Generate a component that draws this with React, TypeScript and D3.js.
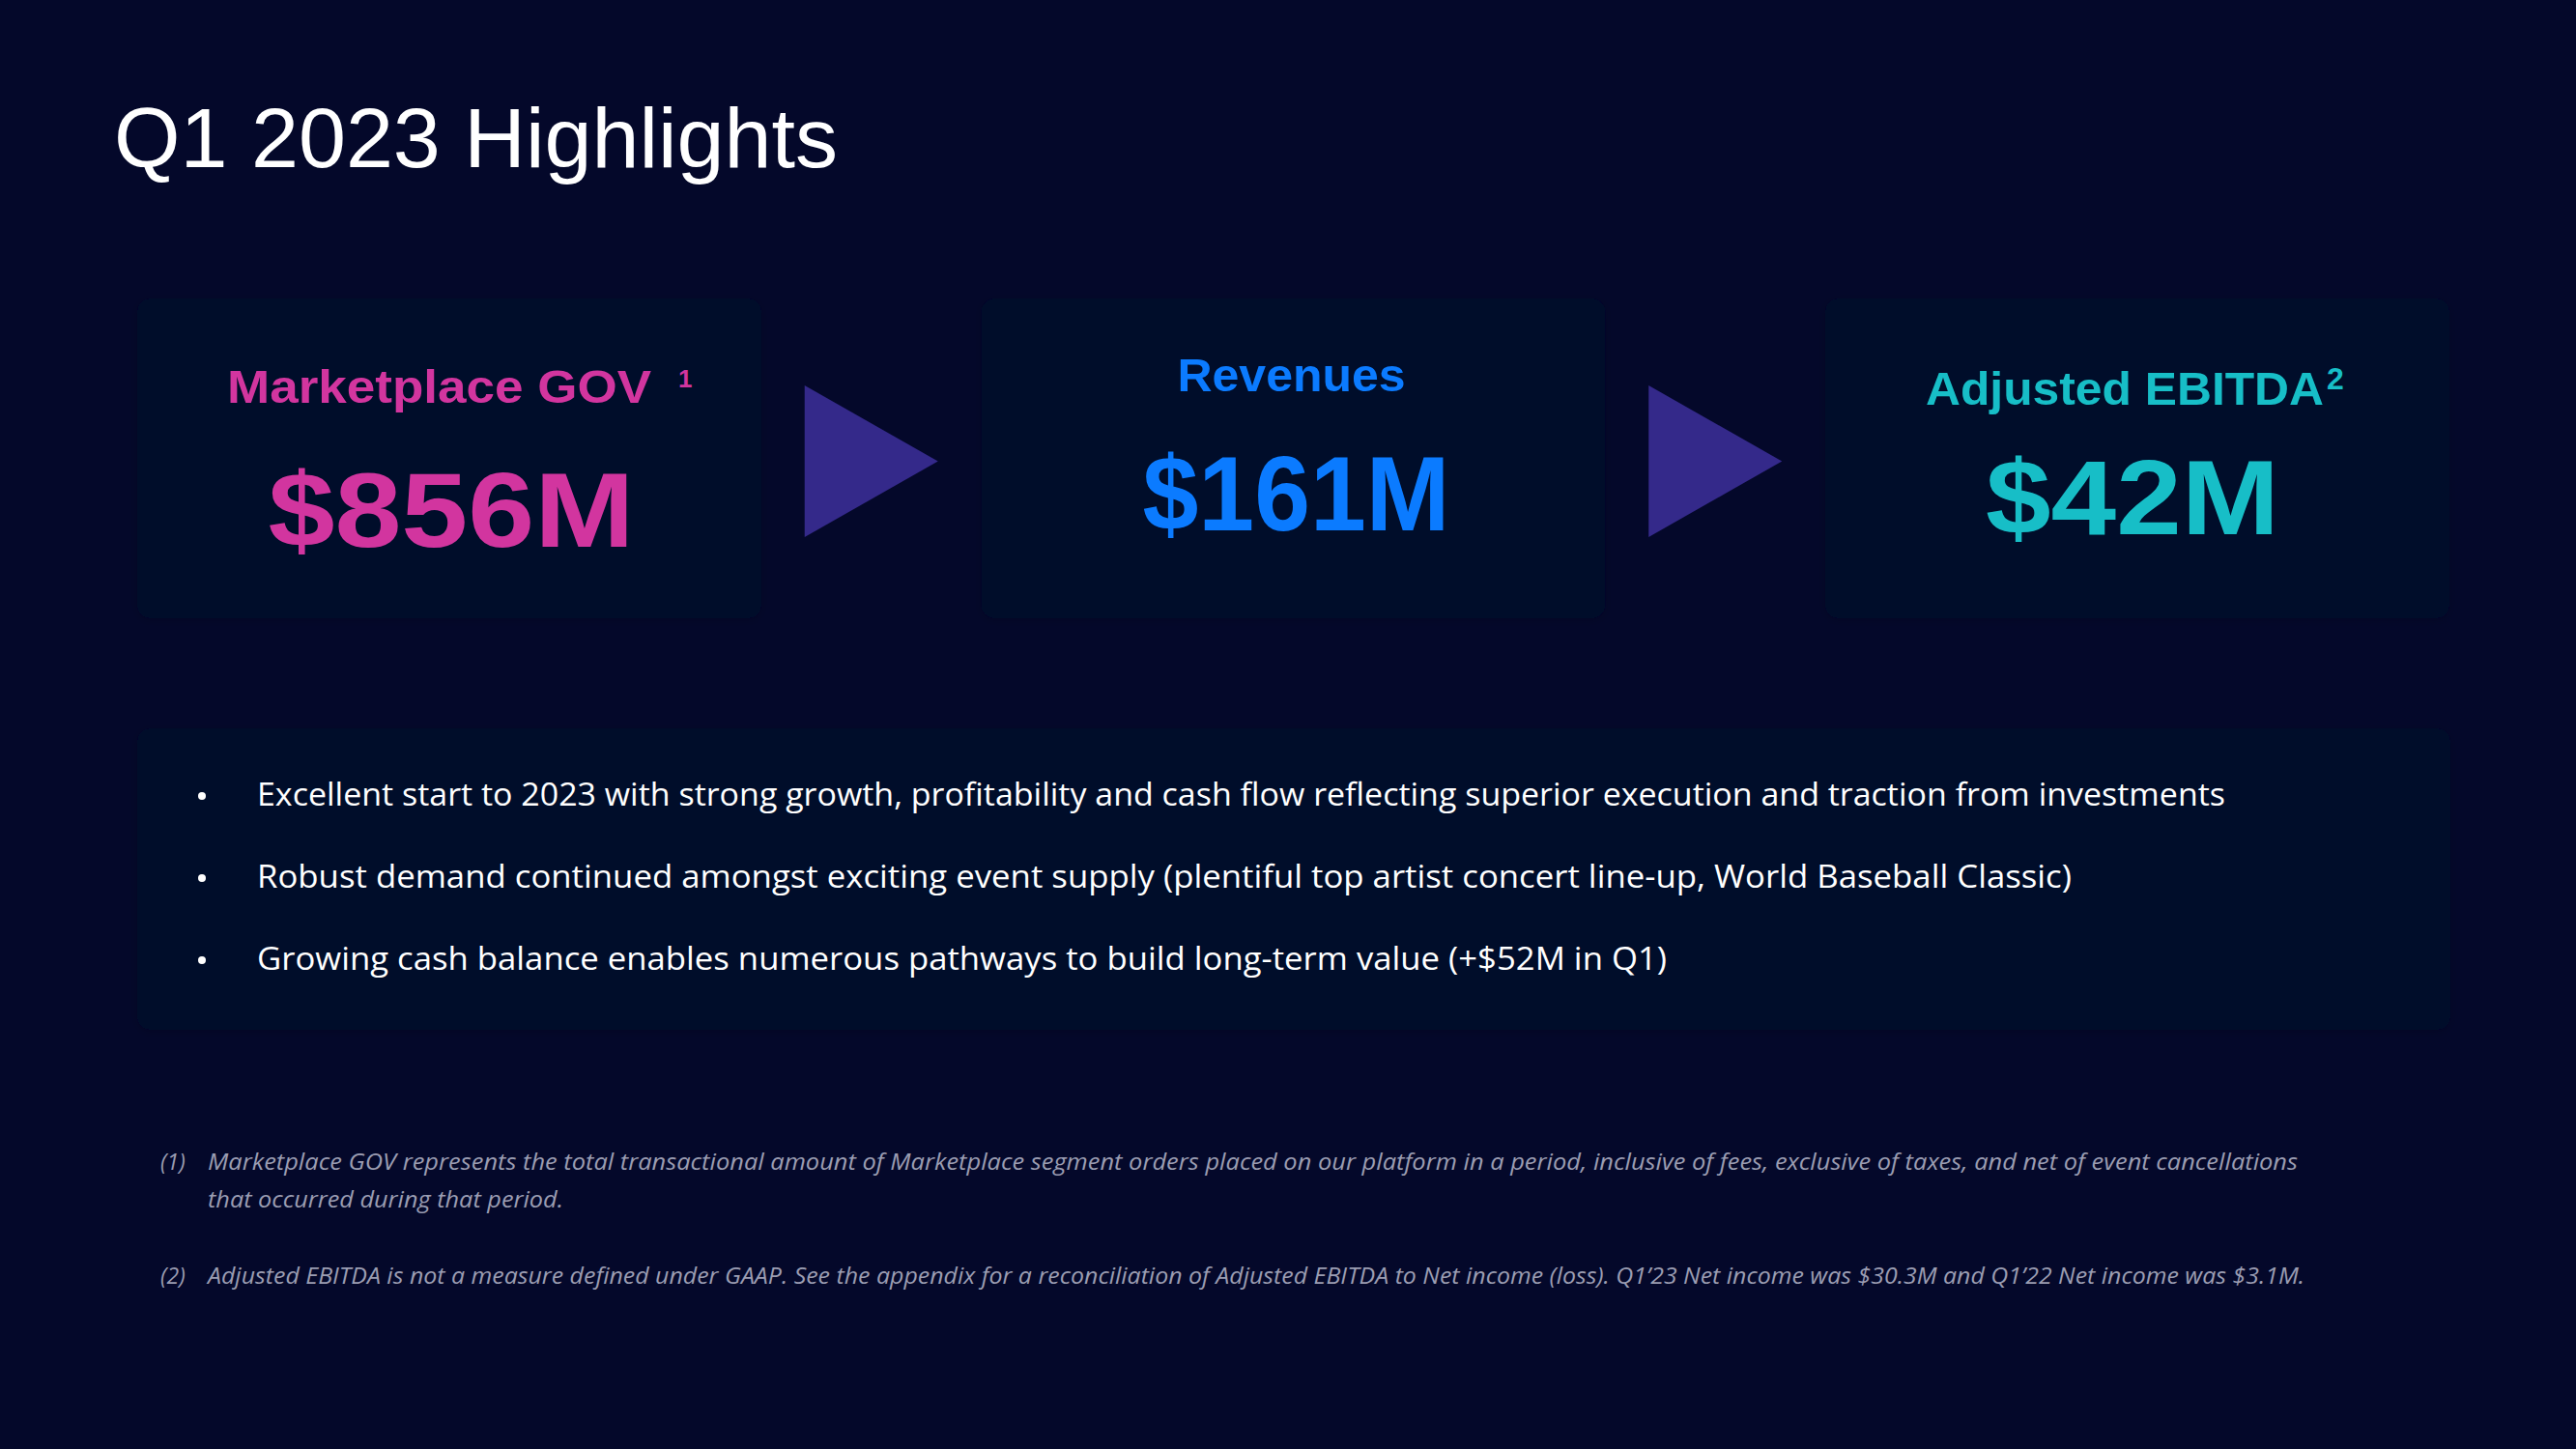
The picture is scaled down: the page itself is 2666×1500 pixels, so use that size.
import React from "react";
import * as d3 from "d3";

const W = 2666;
const H = 1500;

// ---- data ----
const titleText = "Q1 2023 Highlights";
const metricLabels = ["Marketplace GOV", "Revenues", "Adjusted EBITDA"];
const metricValues = ["$856M", "$161M", "$42M"];
const metricNotes = ["1", "", "2"];
const metricColors = ["#D2359F", "#0B7BFF", "#17BEC7"];
const bullets = [
  "Excellent start to 2023 with strong growth, profitability and cash flow reflecting superior execution and traction from investments",
  "Robust demand continued amongst exciting event supply (plentiful top artist concert line-up, World Baseball Classic)",
  "Growing cash balance enables numerous pathways to build long-term value (+$52M in Q1)",
];
const footnoteMarks = ["(1)", "(2)"];
const footnoteLines = [
  [
    "Marketplace GOV represents the total transactional amount of Marketplace segment orders placed on our platform in a period, inclusive of fees, exclusive of taxes, and net of event cancellations",
    "that occurred during that period.",
  ],
  [
    "Adjusted EBITDA is not a measure defined under GAAP. See the appendix for a reconciliation of Adjusted EBITDA to Net income (loss). Q1\u201923 Net income was $30.3M and Q1\u201922 Net income was $3.1M.",
  ],
];

// ---- layout / style (not data) ----
const BG = "#04082A";
const CARD = "#05092C";
const ARROW = "#34298A";
const headFont = "'Liberation Sans', Arial, Helvetica, sans-serif";
const bodyFont = "'Open Sans', 'Noto Sans', sans-serif";
const headLayout = [
  { dx: -230, w: 439, y: 417, supDx: 237, supY: 401, supSize: 26 },
  { dx: -120, w: 236, y: 405, supDx: 0, supY: 0, supSize: 0 },
  { dx: -219, w: 412, y: 419, supDx: 196, supY: 403, supSize: 32 },
];
const valueLayout = [
  { dx: 2, w: 379, y: 566 },
  { dx: 3, w: 318, y: 549 },
  { dx: -5, w: 304, y: 553 },
];
const bulletWidths = [2037, 1878, 1459];
const footWidths = [[2163, 368], [2170]];

export default function App() {
  const cardX = d3.scalePoint<string>().domain(metricLabels).range([465, 2212]);
  const cardW = 646;
  const cardTop = 309;
  const cardBottom = 640;

  const bulletY = d3
    .scalePoint<number>()
    .domain(d3.range(bullets.length))
    .range([834, 1004]);

  const footY = d3.scaleLinear().domain([0, 1]).range([1211, 1250]);
  const footBlockY = [1211, 1329];

  const centers = metricLabels.map((m) => cardX(m) as number);
  const arrowCenters = d3.pairs(centers).map(([a, b]) => (a + b) / 2);
  const triPath = (cx: number) => {
    const p = d3.path();
    p.moveTo(cx - 69, 399);
    p.lineTo(cx + 69, 477.5);
    p.lineTo(cx - 69, 556);
    p.closePath();
    return p.toString();
  };

  return (
    <svg
      width={W}
      height={H}
      viewBox={`0 0 ${W} ${H}`}
      style={{ display: "block", position: "absolute", left: 0, top: 0 }}
    >
      <defs>
        <filter id="sh" x="-5%" y="-5%" width="110%" height="110%">
          <feDropShadow dx="0" dy="2" stdDeviation="4" floodColor="#000010" floodOpacity="0.15" />
        </filter>
      </defs>
      <rect x={0} y={0} width={W} height={H} fill={BG} />

      <text
        x={118}
        y={173}
        fontFamily={headFont}
        fontSize={88}
        fill="#FFFFFF"
        textLength={749}
        lengthAdjust="spacingAndGlyphs"
      >
        {titleText}
      </text>

      {/* cards */}
      {metricLabels.map((m, i) => (
        <rect
          key={"c" + m}
          x={centers[i] - cardW / 2}
          y={cardTop}
          width={cardW}
          height={cardBottom - cardTop}
          rx={14}
          fill={CARD}
          filter="url(#sh)"
        />
      ))}
      <rect x={142} y={754} width={2394} height={312} rx={14} fill={CARD} filter="url(#sh)" />

      {/* arrows */}
      {arrowCenters.map((cx, i) => (
        <path key={"a" + i} d={triPath(cx)} fill={ARROW} />
      ))}

      {/* metrics */}
      {metricLabels.map((m, i) => {
        const c = centers[i];
        const hl = headLayout[i];
        const vl = valueLayout[i];
        return (
          <g key={"m" + m} fill={metricColors[i]} fontFamily={headFont} fontWeight={700}>
            <text
              x={c + hl.dx}
              y={hl.y}
              fontSize={48}
              textLength={hl.w}
              lengthAdjust="spacingAndGlyphs"
            >
              {m}
            </text>
            {metricNotes[i] && (
              <text x={c + hl.supDx} y={hl.supY} fontSize={hl.supSize}>
                {metricNotes[i]}
              </text>
            )}
            <text
              x={c + vl.dx}
              y={vl.y}
              fontSize={110}
              textAnchor="middle"
              textLength={vl.w}
              lengthAdjust="spacingAndGlyphs"
            >
              {metricValues[i]}
            </text>
          </g>
        );
      })}

      {/* bullets */}
      {bullets.map((b, i) => (
        <g key={"b" + i} fill="#FFFFFF" fontFamily={bodyFont} fontSize={32}>
          <circle cx={209} cy={(bulletY(i) as number) - 10} r={4} />
          <text
            x={266}
            y={bulletY(i) as number}
            textLength={bulletWidths[i]}
            lengthAdjust="spacingAndGlyphs"
          >
            {b}
          </text>
        </g>
      ))}

      {/* footnotes */}
      {footnoteMarks.map((mk, i) => (
        <g key={"f" + i} fill="#9B9DB2" fontFamily={bodyFont} fontSize={23} fontStyle="italic">
          <text x={166} y={footBlockY[i]}>
            {mk}
          </text>
          {footnoteLines[i].map((ln, j) => (
            <text
              key={j}
              x={215}
              y={footBlockY[i] + (footY(j) - footY(0))}
              textLength={footWidths[i][j]}
              lengthAdjust="spacingAndGlyphs"
            >
              {ln}
            </text>
          ))}
        </g>
      ))}
    </svg>
  );
}
